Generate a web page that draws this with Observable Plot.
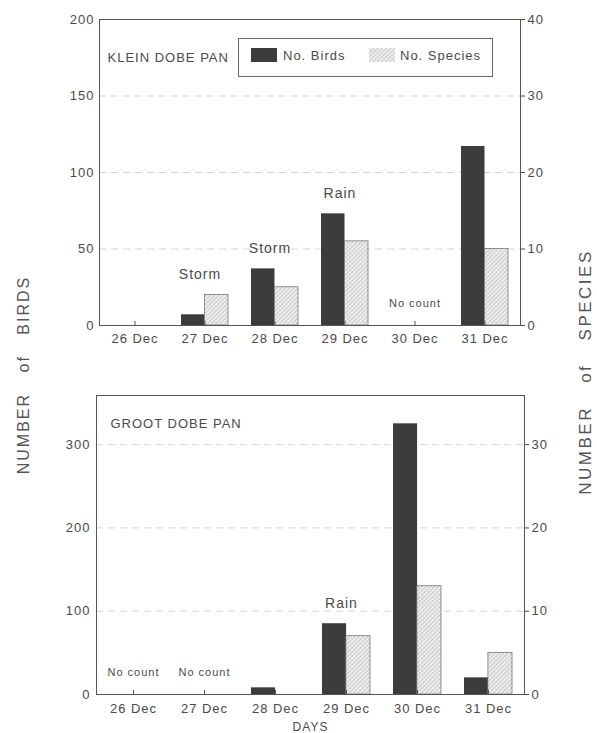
<!DOCTYPE html>
<html><head><meta charset="utf-8">
<script src="https://cdn.jsdelivr.net/npm/d3@7"></script>
<script src="https://cdn.jsdelivr.net/npm/@observablehq/plot@0.6"></script>
<style>
body{margin:0;background:#fff;font-family:"Liberation Sans",Arial,sans-serif;color:#4a4a4a}
#wrap{position:relative;width:597px;height:733px;overflow:hidden;background:#fff}
#wrap > svg{position:absolute;left:0}
.vlabel{position:absolute;white-space:nowrap;transform:translate(-50%,-50%) rotate(-90deg);color:#555}
#legend{position:absolute;left:238px;top:38px;width:253px;height:37px;border:1px solid #666;background:#fff;font-size:13px;letter-spacing:1px}
#legend .sw{position:absolute;top:9px;width:26px;height:14px}
#legend .tx{position:absolute;top:16px;transform:translateY(-50%);white-space:nowrap}
</style></head><body>
<div id="wrap"></div>
<script>
// ---- data ----
const dates = ["26 Dec", "27 Dec", "28 Dec", "29 Dec", "30 Dec", "31 Dec"];
const kleinBirds   = [0, 7, 37, 73, null, 117];
const kleinSpecies = [0, 4, 5, 11, null, 10];
const kleinNotes   = ["", "Storm", "Storm", "Rain", "No count", ""];
const grootBirds   = [null, null, 8, 85, 325, 20];
const grootSpecies = [null, null, 0, 7, 13, 5];
const grootNotes   = ["No count", "No count", "", "Rain", "", ""];
const kleinBirdTicks = [0, 50, 100, 150, 200];
const kleinSpeciesTicks = [0, 10, 20, 30, 40];
const grootBirdTicks = [0, 100, 200, 300];
const grootSpeciesTicks = [0, 10, 20, 30];

const wrap = document.getElementById("wrap");
const ink = "#4a4a4a";

function panel(o) {
  const rows = dates.map((d, i) => ({date: d, birds: o.birds[i], species: o.species[i], note: o.notes[i]}));
  const k = o.k; // birds units per species unit
  const plotW = o.width - o.ml - o.mr;
  const pi = 0.33, po = 0.165;
  const step = plotW / (dates.length - pi + 2 * po);
  const bw = step * (1 - pi);
  const plotH = o.height - o.mt - o.mb;
  const tickLen = 4 * o.yMax / plotH;
  const top = d => Math.max(d.birds ?? 0, (d.species ?? 0) * k);
  const svg = Plot.plot({
    width: o.width, height: o.height,
    marginTop: o.mt, marginBottom: o.mb, marginLeft: o.ml, marginRight: o.mr,
    style: `font-family:'Liberation Sans',Arial,sans-serif;font-size:13px;letter-spacing:1px;color:${ink};background:transparent;`,
    x: {domain: dates, paddingInner: pi, paddingOuter: po, label: null},
    y: {domain: [0, o.yMax], label: null},
    marks: [
      Plot.gridY({ticks: o.birdTicks, stroke: "#888", strokeOpacity: 0.35, strokeDasharray: "7,5"}),
      Plot.barY(rows, {x: "date", y: "birds", fill: "#3c3c3c", insetRight: bw / 2}),
      Plot.barY(rows, {x: "date", y: d => d.species == null ? null : d.species * k, fill: `url(#${o.pid})`, stroke: "#777", strokeWidth: 0.8, insetLeft: bw / 2}),
      Plot.ruleX(dates, {x: d => d, y1: 0, y2: tickLen, stroke: "#555"}),
      Plot.frame({stroke: "#555"}),
      Plot.axisY({anchor: "left", label: null, ticks: o.birdTicks, tickSize: 0, tickPadding: o.lpad, fontSize: 13}),
      Plot.axisY({anchor: "right", label: null, ticks: o.speciesTicks.map(s => s * k), tickFormat: d => d / k, tickSize: 4, tickPadding: 3, fontSize: 13}),
      Plot.axisX({label: null, tickSize: 0, tickPadding: o.xpad, fontSize: 13}),
      Plot.text(rows.filter(d => d.note && d.note !== "No count"), {x: "date", y: top, text: "note", dy: -16, dx: -5, lineAnchor: "bottom", fontSize: 14, fill: ink}),
      Plot.text(rows.filter(d => d.note === "No count"), {x: "date", y: 0, text: "note", dy: -19, lineAnchor: "bottom", fontSize: 11, fill: ink}),
      Plot.text([o.title], {frameAnchor: "top-left", dx: o.tdx, dy: o.tdy, textAnchor: "start", lineAnchor: "middle", fontSize: 13, fill: ink}),
      ...(o.days ? [Plot.text(["DAYS"], {frameAnchor: "bottom", dy: 33, lineAnchor: "middle", fontSize: 12, fill: ink})] : [])
    ]
  });
  const defs = d3.select(svg).insert("defs", ":first-child");
  const p = defs.append("pattern").attr("id", o.pid).attr("patternUnits", "userSpaceOnUse")
    .attr("width", 3).attr("height", 3).attr("patternTransform", "rotate(45)");
  p.append("rect").attr("width", 3).attr("height", 3).attr("fill", "#f2f2f2");
  p.append("line").attr("x1", 0).attr("y1", 0).attr("x2", 0).attr("y2", 3).attr("stroke", "#999").attr("stroke-width", 0.9);
  p.append("line").attr("x1", 0).attr("y1", 0).attr("x2", 3).attr("y2", 0).attr("stroke", "#bbb").attr("stroke-width", 0.6);
  svg.style.top = o.top + "px";
  wrap.appendChild(svg);
}

panel({birds: kleinBirds, species: kleinSpecies, notes: kleinNotes, title: "KLEIN DOBE PAN",
  k: 5, yMax: 200, birdTicks: kleinBirdTicks, speciesTicks: kleinSpeciesTicks,
  width: 597, height: 350, mt: 19, mb: 25, ml: 99, mr: 77, top: 0, lpad: 5, xpad: 8, tdx: 8, tdy: 38, pid: "hatchK", days: false});

panel({birds: grootBirds, species: grootSpecies, notes: grootNotes, title: "GROOT DOBE PAN",
  k: 10, yMax: 359, birdTicks: grootBirdTicks, speciesTicks: grootSpeciesTicks,
  width: 597, height: 383, mt: 45, mb: 39, ml: 96, mr: 73, top: 350, lpad: 6, xpad: 9, tdx: 14, tdy: 28, pid: "hatchG", days: true});

// legend
const lg = document.createElement("div");
lg.id = "legend";
lg.innerHTML = `
  <div class="sw" style="left:12px;background:#3c3c3c"></div>
  <div class="tx" style="left:44px">No. Birds</div>
  <svg class="sw" style="left:130px" width="26" height="14">
    <defs><pattern id="hatchL" patternUnits="userSpaceOnUse" width="3" height="3" patternTransform="rotate(45)">
      <rect width="3" height="3" fill="#f2f2f2"/><line x1="0" y1="0" x2="0" y2="3" stroke="#999" stroke-width="0.9"/><line x1="0" y1="0" x2="3" y2="0" stroke="#bbb" stroke-width="0.6"/></pattern></defs>
    <rect width="26" height="14" fill="url(#hatchL)"/>
  </svg>
  <div class="tx" style="left:161px">No. Species</div>`;
wrap.appendChild(lg);

// vertical axis titles
const l1 = document.createElement("div");
l1.className = "vlabel";
l1.style.cssText = "left:24px;top:375px;font-size:16px;letter-spacing:2px;word-spacing:14px";
l1.textContent = "NUMBER of BIRDS";
wrap.appendChild(l1);
const l2 = document.createElement("div");
l2.className = "vlabel";
l2.style.cssText = "left:586px;top:372px;font-size:17px;letter-spacing:2.5px;word-spacing:16px";
l2.textContent = "NUMBER of SPECIES";
wrap.appendChild(l2);
</script>
</body></html>
